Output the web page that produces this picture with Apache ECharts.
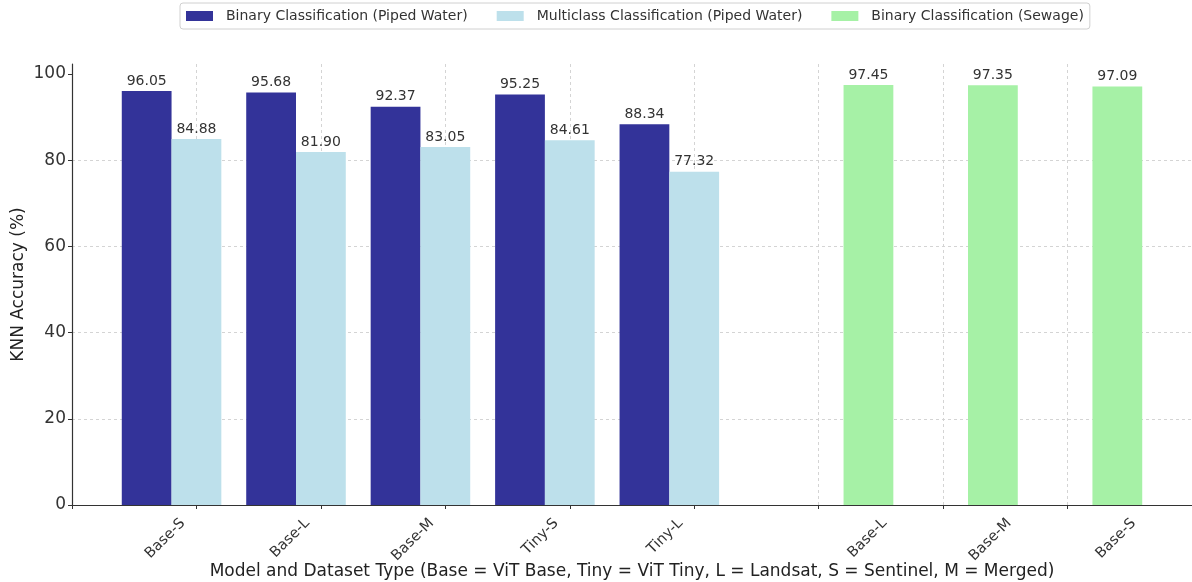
<!DOCTYPE html>
<html>
<head>
<meta charset="utf-8">
<script src="https://cdn.jsdelivr.net/npm/echarts@6/dist/echarts.min.js"></script>
<style>html,body{margin:0;padding:0;background:#fff}#c{width:1192px;height:582px}</style>
</head>
<body>
<div id="c"></div>
<script>
// ---- data ----
const pipedModels = ['Base-S', 'Base-L', 'Base-M', 'Tiny-S', 'Tiny-L'];
const binaryPiped = [96.05, 95.68, 92.37, 95.25, 88.34];
const multiPiped = [84.88, 81.90, 83.05, 84.61, 77.32];
const sewageModels = ['Base-L', 'Base-M', 'Base-S'];
const binarySewage = [97.45, 97.35, 97.09];
const yTicks = [0, 20, 40, 60, 80, 100];
const seriesNames = ['Binary Classification (Piped Water)', 'Multiclass Classification (Piped Water)', 'Binary Classification (Sewage)'];

// ---- layout constants (in axis units) ----
const BAR_W = 0.4;
const SEWAGE_START = 5;
const PIPED_LABEL_SHIFT = -0.11;
const SEWAGE_LABEL_SHIFT = 0.53;

const colors = ['#333399', '#bde0eb', '#a6f1a6'];
const FONT = 'DejaVu Sans';

const binData = binaryPiped.map((v, i) => [i - BAR_W, v]);
const mulData = multiPiped.map((v, i) => [i, v]);
const sewData = binarySewage.map((v, i) => [SEWAGE_START + i + BAR_W, v]);

const labelMap = {};
pipedModels.forEach((m, i) => { labelMap[Math.round((i + PIPED_LABEL_SHIFT) * 100)] = m; });
sewageModels.forEach((m, i) => { labelMap[Math.round((SEWAGE_START + i + SEWAGE_LABEL_SHIFT) * 100)] = m; });

function makeRender(color) {
  return function (params, api) {
    const x = api.value(0), y = api.value(1);
    const p0 = api.coord([x - BAR_W / 2, 0]);
    const p1 = api.coord([x + BAR_W / 2, y]);
    return {
      type: 'group',
      children: [
        { type: 'rect', shape: { x: p0[0], y: p1[1], width: p1[0] - p0[0], height: p0[1] - p1[1] }, style: { fill: color } },
        { type: 'text', style: { text: y.toFixed(2), x: (p0[0] + p1[0]) / 2, y: p1[1] - 3, align: 'center', verticalAlign: 'bottom', fill: '#333', font: '14px "' + FONT + '"' } }
      ]
    };
  };
}

const chart = echarts.init(document.getElementById('c'), null, { renderer: 'canvas' });
chart.setOption({
  animation: false,
  backgroundColor: '#fff',
  textStyle: { fontFamily: FONT },
  legend: {
    top: 3, left: 180,
    data: seriesNames,
    icon: 'rect', itemWidth: 27, itemHeight: 10, itemGap: 29,
    padding: [6, 6, 6, 6],
    borderColor: '#d0d0d0', borderWidth: 1, borderRadius: 3,
    textStyle: { fontSize: 14, color: '#333', fontFamily: FONT, padding: [0, 0, 0, 8] }
  },
  grid: { left: 72, right: 0, top: 64, bottom: 77, containLabel: false, outerBoundsMode: 'none' },
  xAxis: [
    {
      type: 'value', min: -1, max: 8, interval: 1,
      name: 'Model and Dataset Type (Base = ViT Base, Tiny = ViT Tiny, L = Landsat, S = Sentinel, M = Merged)',
      nameLocation: 'middle', nameGap: 58, nameMoveOverlap: false,
      nameTextStyle: { fontSize: 17, color: '#222', fontFamily: FONT },
      axisLine: { show: true, onZero: false, lineStyle: { color: '#333', width: 1.2 } },
      axisTick: { show: true, length: 4, lineStyle: { color: '#333' } },
      axisLabel: { show: false },
      splitLine: { show: true, showMinLine: false, showMaxLine: false, lineStyle: { type: [3, 3], color: '#d4d4d4' } }
    },
    {
      type: 'value', min: -1, max: 8, interval: 0.01, position: 'bottom',
      axisLine: { show: false, onZero: false }, axisTick: { show: false }, splitLine: { show: false },
      axisLabel: {
        show: true, rotate: 45, margin: 16, fontSize: 14.5, color: '#333', fontFamily: FONT,
        formatter: v => labelMap[Math.round(v * 100)] || ''
      }
    }
  ],
  yAxis: {
    type: 'value', min: 0, max: 102.3, interval: 20,
    name: 'KNN Accuracy (%)', nameLocation: 'middle', nameGap: 45, nameMoveOverlap: false,
    nameTextStyle: { fontSize: 17, color: '#222', fontFamily: FONT },
    axisLine: { show: true, onZero: false, lineStyle: { color: '#333', width: 1.2 } },
    axisTick: { show: true, length: 4, lineStyle: { color: '#333' }, customValues: yTicks },
    axisLabel: { fontSize: 17, color: '#333', margin: 6, fontFamily: FONT, customValues: yTicks },
    splitLine: { show: true, showMaxLine: false, lineStyle: { type: [3, 3], color: '#d4d4d4' } }
  },
  series: [
    { name: seriesNames[0], type: 'custom', xAxisIndex: 0, renderItem: makeRender(colors[0]), itemStyle: { color: colors[0] }, data: binData, z: 3 },
    { name: seriesNames[1], type: 'custom', xAxisIndex: 0, renderItem: makeRender(colors[1]), itemStyle: { color: colors[1] }, data: mulData, z: 3 },
    { name: seriesNames[2], type: 'custom', xAxisIndex: 0, renderItem: makeRender(colors[2]), itemStyle: { color: colors[2] }, data: sewData, z: 3 }
  ]
});
</script>
</body>
</html>
